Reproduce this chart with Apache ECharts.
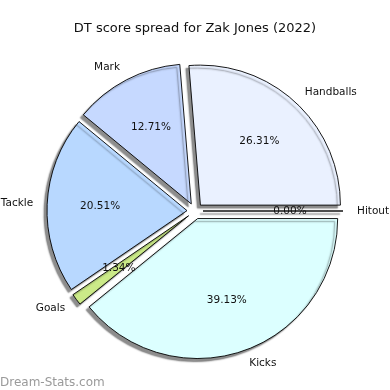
<!DOCTYPE html>
<html>
<head>
<meta charset="utf-8">
<script src="https://cdn.jsdelivr.net/npm/echarts@6/dist/echarts.min.js"></script>
<style>html,body{margin:0;padding:0;background:#fff;}#c{width:390px;height:390px;}</style>
</head>
<body>
<div id="c"></div>
<script>
const categories = ['Handballs', 'Mark', 'Tackle', 'Goals', 'Kicks', 'Hitout'];
const values = [26.31, 12.71, 20.51, 1.34, 39.13, 0.00];
const colors = ['#eaf1ff', '#c6d9ff', '#b8d8ff', '#cbea88', '#dcffff', '#e0e0ff'];

const chart = echarts.init(document.getElementById('c'), null, {renderer: 'canvas'});
const FONT = 'DejaVu Sans';
const total = values.reduce((a, b) => a + b, 0);
const mainData = categories.map((n, i) => ({
  name: n, value: values[i], selected: true,
  itemStyle: {color: colors[i]}
}));
const pctData = categories.map((n, i) => ({name: n, value: values[i], selected: true}));

chart.setOption({
  animation: false,
  title: [
    {text: 'DT score spread for Zak Jones (2022)', left: 'center', top: 17,
     textStyle: {fontFamily: FONT, fontSize: 13, fontWeight: 'normal', color: '#111'}},
    {text: 'Dream-Stats.com', left: -5, top: 372,
     textStyle: {fontFamily: FONT, fontSize: 12, fontWeight: 'normal', color: '#9a9a9a'}}
  ],
  series: [
    {
      type: 'pie',
      center: [195, 211],
      radius: [0, 140],
      startAngle: 0,
      clockwise: false,
      selectedMode: 'multiple',
      selectedOffset: 8,
      avoidLabelOverlap: false,
      minAngle: 0,
      data: mainData,
      itemStyle: {
        borderColor: '#000', borderWidth: 0.9,
        shadowColor: 'rgba(0,0,0,0.45)', shadowBlur: 1.5,
        shadowOffsetX: -3, shadowOffsetY: 3
      },
      label: {
        show: true, position: 'outside', formatter: '{b}',
        fontFamily: FONT, fontSize: 10.5, color: '#111',
        distanceToLabelLine: 0
      },
      labelLine: {show: false, length: 14, length2: 0},
      emphasis: {disabled: true},
      select: {disabled: false}
    },
    {
      type: 'pie',
      center: [195, 211],
      radius: [28, 140],
      startAngle: 0,
      clockwise: false,
      selectedMode: 'multiple',
      selectedOffset: 8,
      silent: true,
      z: 5,
      data: pctData,
      itemStyle: {color: 'rgba(0,0,0,0)', borderWidth: 0},
      label: {
        show: true, position: 'inside',
        formatter: p => (p.value / total * 100).toFixed(2) + '%',
        fontFamily: FONT, fontSize: 10.5, color: '#111'
      },
      labelLine: {show: false},
      emphasis: {disabled: true}
    }
  ]
});
</script>
</body>
</html>
